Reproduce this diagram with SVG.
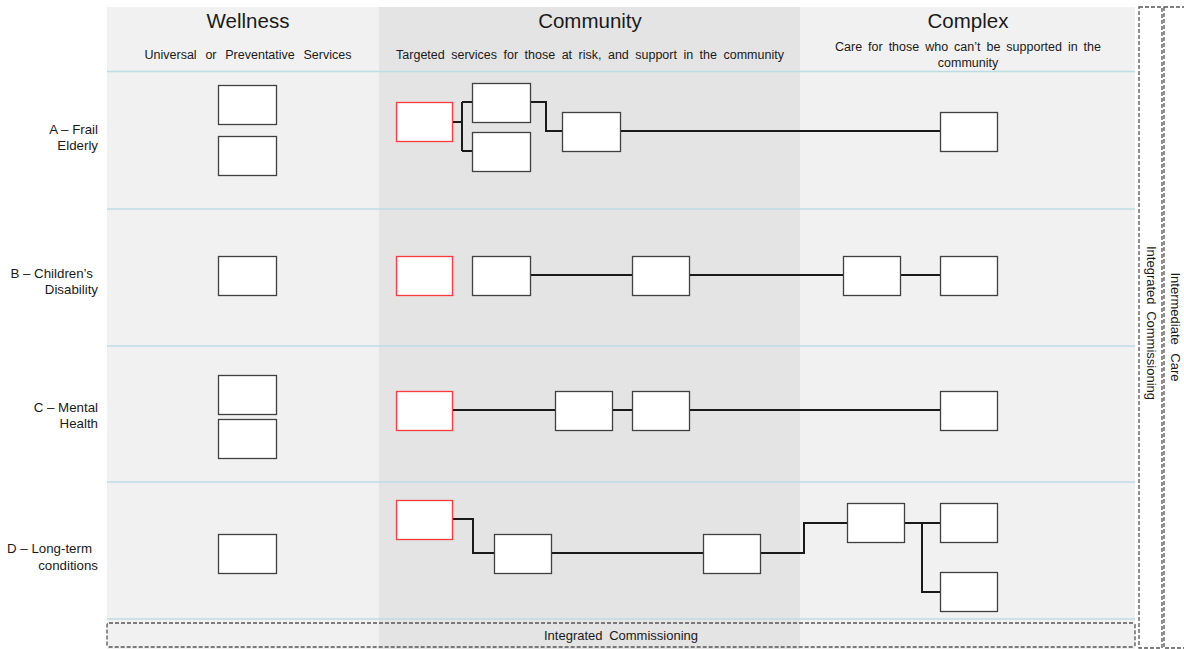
<svg xmlns="http://www.w3.org/2000/svg" width="1184" height="649" viewBox="0 0 1184 649">
<style>
.t{font-family:"Liberation Sans",Arial,sans-serif;fill:#1a1a1a}
.h{font-size:20.5px;text-anchor:middle}
.s{font-size:12.5px;text-anchor:middle}
.m{font-size:13px;text-anchor:middle}
.r{font-size:13.3px;text-anchor:end}
.box{fill:#fff;stroke:#404040;stroke-width:1.3}
.red{fill:#fff;stroke:#ff3b3b;stroke-width:1.3}
.sep{stroke:#bcdde3;stroke-width:1.5}
.dash{fill:none;stroke:#555;stroke-width:1.3;stroke-dasharray:4 2}
.c{fill:none;stroke:#1a1a1a;stroke-width:2}
</style>
<rect x="0" y="0" width="1184" height="649" fill="#fff"/>
<g id="background">
<rect x="107" y="7" width="272" height="642" fill="#f1f1f1"/>
<rect x="379" y="7" width="421" height="642" fill="#e4e4e4"/>
<rect x="800" y="7" width="335" height="642" fill="#f1f1f1"/>
<line class="sep" x1="107" y1="71.5" x2="1135" y2="71.5"/>
<line class="sep" x1="107" y1="209" x2="1135" y2="209"/>
<line class="sep" x1="107" y1="346" x2="1135" y2="346"/>
<line class="sep" x1="107" y1="482" x2="1135" y2="482"/>
<line class="sep" x1="107" y1="619" x2="1135" y2="619"/>
</g>
<g id="headers">
<text class="t h" x="248" y="28">Wellness</text>
<text class="t s" x="248" y="59" word-spacing="5.3">Universal or Preventative Services</text>
<text class="t h" x="590" y="28">Community</text>
<text class="t s" x="590" y="59" word-spacing="3">Targeted services for those at risk, and support in the community</text>
<text class="t h" x="968" y="28">Complex</text>
<text class="t s" x="968" y="51" word-spacing="2.5">Care for those who can’t be supported in the</text>
<text class="t s" x="968" y="67">community</text>
</g>
<g id="row-labels">
<text class="t r" x="98" y="134">A – Frail</text>
<text class="t r" x="98" y="150">Elderly</text>
<text class="t r" x="93" y="278">B – Children’s</text>
<text class="t r" x="98" y="294">Disability</text>
<text class="t r" x="98" y="412">C – Mental</text>
<text class="t r" x="98" y="428">Health</text>
<text class="t r" x="92" y="553">D – Long-term</text>
<text class="t r" x="98" y="570">conditions</text>
</g>
<g id="commissioning">
<rect class="dash" x="107" y="623" width="1028" height="24" rx="2"/>
<text class="t m" x="621" y="640" word-spacing="3">Integrated Commissioning</text>
<rect class="dash" x="1139" y="7" width="23" height="641"/>
<text class="t m" transform="translate(1147,323) rotate(90)" word-spacing="3">Integrated Commissioning</text>
<rect class="dash" x="1164" y="7" width="24" height="641"/>
<text class="t m" transform="translate(1171,327) rotate(90)" word-spacing="5">Intermediate Care</text>
</g>
<g id="connectors">
<path class="c" d="M453 122 H462 M462 102 V151 M462 102 H472 M462 151 H472"/>
<path class="c" d="M531 102 H546 V131 H562"/>
<path class="c" d="M620 131 H940"/>
<path class="c" d="M531 275 H632 M690 275 H843 M901 275 H940"/>
<path class="c" d="M453 410 H555 M613 410 H632 M690 410 H940"/>
<path class="c" d="M453 519 H473 V553 H494 M552 553 H704 M761 553 H804 V523 H847 M905 523 H940 M922 523 V592 H940"/>
</g>
<g id="nodes">
<g id="a-w1"><rect class="box" x="218.5" y="85.5" width="58" height="39"/></g>
<g id="a-w2"><rect class="box" x="218.5" y="136.5" width="58" height="39"/></g>
<g id="a-c0"><rect class="red" x="396.5" y="102.5" width="56" height="39"/></g>
<g id="a-c1"><rect class="box" x="472.5" y="83.5" width="58" height="39"/></g>
<g id="a-c2"><rect class="box" x="472.5" y="132.5" width="58" height="39"/></g>
<g id="a-c3"><rect class="box" x="562.5" y="112.5" width="58" height="39"/></g>
<g id="a-x1"><rect class="box" x="940.5" y="112.5" width="57" height="39"/></g>
<g id="b-w1"><rect class="box" x="218.5" y="256.5" width="58" height="39"/></g>
<g id="b-c0"><rect class="red" x="396.5" y="256.5" width="56" height="39"/></g>
<g id="b-c1"><rect class="box" x="472.5" y="256.5" width="58" height="39"/></g>
<g id="b-c2"><rect class="box" x="632.5" y="256.5" width="57" height="39"/></g>
<g id="b-x1"><rect class="box" x="843.5" y="256.5" width="57" height="39"/></g>
<g id="b-x2"><rect class="box" x="940.5" y="256.5" width="57" height="39"/></g>
<g id="c-w1"><rect class="box" x="218.5" y="375.5" width="58" height="39"/></g>
<g id="c-w2"><rect class="box" x="218.5" y="419.5" width="58" height="39"/></g>
<g id="c-c0"><rect class="red" x="396.5" y="391.5" width="56" height="39"/></g>
<g id="c-c1"><rect class="box" x="555.5" y="391.5" width="57" height="39"/></g>
<g id="c-c2"><rect class="box" x="632.5" y="391.5" width="57" height="39"/></g>
<g id="c-x1"><rect class="box" x="940.5" y="391.5" width="57" height="39"/></g>
<g id="d-w1"><rect class="box" x="218.5" y="534.5" width="58" height="39"/></g>
<g id="d-c0"><rect class="red" x="396.5" y="500.5" width="56" height="39"/></g>
<g id="d-c1"><rect class="box" x="494.5" y="534.5" width="57" height="39"/></g>
<g id="d-c2"><rect class="box" x="703.5" y="534.5" width="57" height="39"/></g>
<g id="d-x1"><rect class="box" x="847.5" y="503.5" width="57" height="39"/></g>
<g id="d-x2"><rect class="box" x="940.5" y="503.5" width="57" height="39"/></g>
<g id="d-x3"><rect class="box" x="940.5" y="572.5" width="57" height="39"/></g>
</g>
</svg>
